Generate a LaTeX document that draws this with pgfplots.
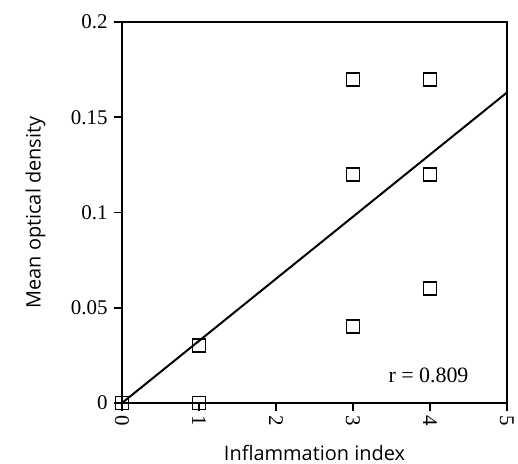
\documentclass[border=0pt]{standalone}
\usepackage{pgfplots}
\pgfplotsset{compat=1.18}
\usepackage{fontspec}
\setmainfont{Liberation Serif}
\newfontfamily\labelfont{Open Sans}
\begin{document}
\begin{tikzpicture}
\begin{axis}[
scale only axis,
width=385bp,height=381bp,
xmin=0,xmax=5,ymin=0,ymax=0.2,
xtick={0,1,2,3,4,5},
ytick={0,0.05,0.1,0.15,0.2},
yticklabels={0,0.05,0.1,0.15,0.2},
tick align=outside,
xtick pos=left,ytick pos=left,
major tick length=8bp,
axis line style={line width=2pt},
tick style={line width=1.6pt,black},
/pgf/number format/assume math mode=true,
ticklabel style={font=\fontsize{21}{24}\selectfont},
xticklabel style={rotate=-90,anchor=west,xshift=1bp},
yticklabel style={xshift=-3bp},
xlabel={\labelfont\fontsize{20}{24}\selectfont Inflammation index},
ylabel={\labelfont\fontsize{20}{24}\selectfont Mean optical density},
xlabel style={at={(axis description cs:0.5,-0.13)},anchor=center},
ylabel style={at={(axis description cs:-0.225,0.5)},anchor=center,rotate=0},
clip=false,
]
\addplot[only marks,mark=square,mark size=6.5bp,mark options={line width=2pt,fill=white}]
coordinates {
(0,0) (1,0.03) (1,0) (3,0.17) (3,0.12) (3,0.04) (4,0.17) (4,0.12) (4,0.06)
};
\addplot[line width=2pt] coordinates {(0,0) (5,0.163)};
\node[anchor=base east,font=\fontsize{22}{26}\selectfont] at (axis cs:4.545,0.0105) {r = 0.809};
\end{axis}
\pgfresetboundingbox
\useasboundingbox (current axis.south west) ++(-122bp,-61bp) rectangle ++(518bp,464bp);
\end{tikzpicture}
\end{document}
